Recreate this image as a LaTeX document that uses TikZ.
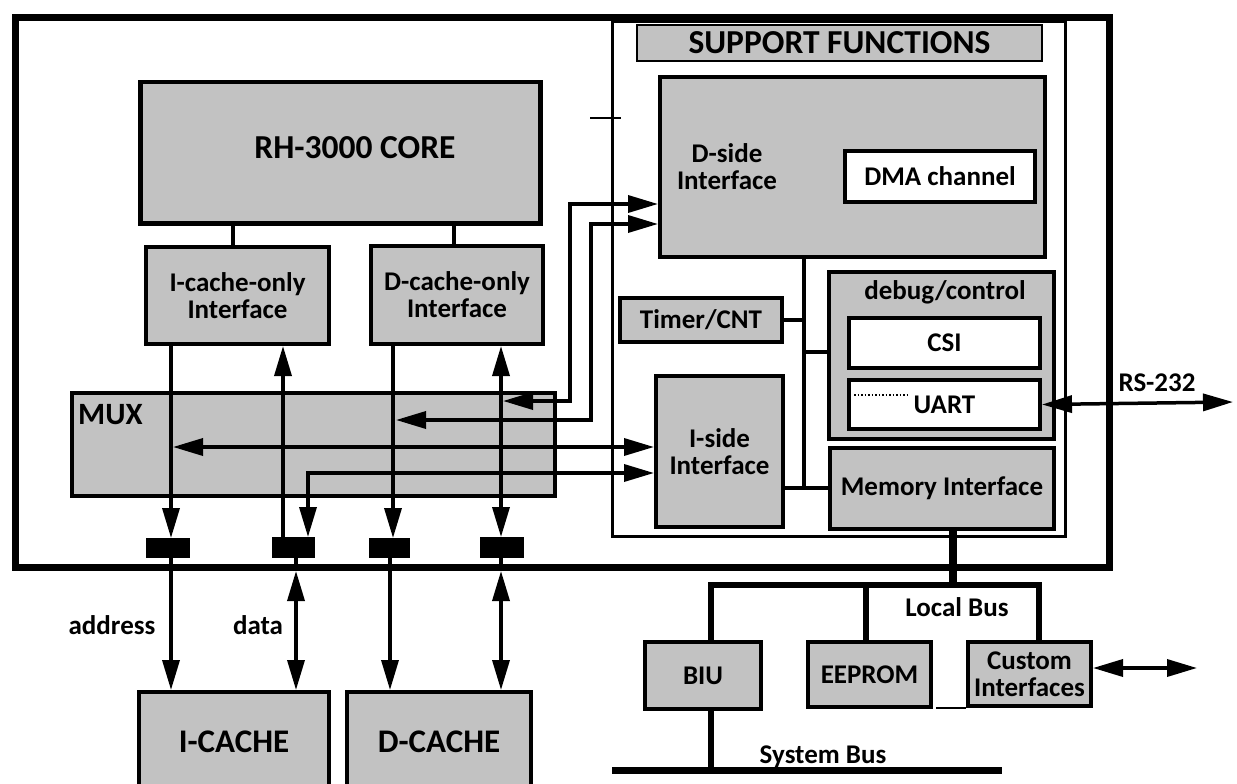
\documentclass[tikz,border=0pt]{standalone}
\usepackage{fontspec}
\setmainfont{Carlito}
\usetikzlibrary{arrows.meta}
\definecolor{shade}{gray}{0.76}
\newcommand\labfont{\fontsize{27}{27}\selectfont\bfseries}
\newcommand\bigfont{\fontsize{33.5}{40}\selectfont\bfseries}
\newcommand\cachefont{\fontsize{33}{40}\selectfont\bfseries}
\tikzset{
  box/.style={draw, line width=4pt, fill=shade, inner sep=0pt, align=center, anchor=north west, font=\labfont},
  wbox/.style={box, fill=white},
  txt/.style={inner sep=0pt, align=center, font=\labfont},
  pad/.style={fill=black, draw=none, inner sep=0pt, anchor=north west},
  ln/.style={line width=3.5pt},
  arr/.style={ln, -{Triangle[length=30pt,width=17pt]}},
  darr/.style={ln, {Triangle[length=30pt,width=17pt]}-{Triangle[length=30pt,width=17pt]}},
  bus/.style={line width=6.5pt},
}
\begin{document}
\begin{tikzpicture}[x=1pt,y=-1pt]
\useasboundingbox (0,0) rectangle (1237,784);
% chip frame and support block
\node[draw, line width=7pt, inner sep=0pt, anchor=north west, minimum width=1094, minimum height=550] (chip) at (12,14) {};
\node[draw, line width=3pt, inner sep=0pt, anchor=north west, minimum width=453, minimum height=515] (sup) at (611,20) {};
\node[box, line width=2pt, minimum width=405, minimum height=36, font=\bigfont] (sf) at (636,24) {SUPPORT FUNCTIONS};
% core side
\node[box, line width=4.5pt, minimum width=400, minimum height=141] (core) at (138,80) {};
\node[txt, font=\bigfont] (coretxt) at (355,148) {RH-3000 CORE};
\node[box, minimum width=183, minimum height=97] (icio) at (144,245) {I-cache-only\\Interface};
\node[box, minimum width=172, minimum height=98] (dcio) at (369,244) {D-cache-only\\Interface};
\node[box, minimum width=483, minimum height=103] (mux) at (70,391) {};
\node[txt, anchor=west, font=\fontsize{31}{36}\selectfont\bfseries] (muxtxt) at (78,415) {MUX};
\node[pad, minimum width=44, minimum height=20] (s1) at (146,538) {};
\node[pad, minimum width=43, minimum height=21] (s2) at (272,537) {};
\node[pad, minimum width=41, minimum height=20] (s3) at (369,538) {};
\node[pad, minimum width=44, minimum height=21] (s4) at (480,537) {};
% support functions
\node[box, minimum width=385, minimum height=180] (dside) at (658,75) {};
\node[txt] (dsidetxt) at (727,167) {D-side\\Interface};
\node[wbox, minimum width=190, minimum height=51] (dma) at (843,149) {DMA channel};
\node[box, minimum width=162, minimum height=44] (timer) at (618,296) {Timer/CNT};
\node[box, minimum width=225, minimum height=167] (dbg) at (827,270) {};
\node[txt] (dbgtxt) at (945,292) {debug/control};
\node[wbox, minimum width=191, minimum height=50] (csi) at (847,316) {CSI};
\node[wbox, minimum width=191, minimum height=49] (uart) at (847,378) {UART};
\node[box, minimum width=127, minimum height=151] (iside) at (654,374) {I-side\\Interface};
\node[box, minimum width=224, minimum height=81] (mem) at (828,446) {Memory Interface};
% external
\node[box, font=\cachefont, minimum width=190, minimum height=100] (ic) at (137,690) {I-CACHE};
\node[box, font=\cachefont, minimum width=184, minimum height=100] (dc) at (345,690) {D-CACHE};
\node[box, minimum width=116, minimum height=67] (biu) at (643,640) {BIU};
\node[box, minimum width=123, minimum height=65] (eep) at (806,640) {EEPROM};
\node[box, minimum width=123, minimum height=64] (cust) at (966,640) {Custom\\Interfaces};
% labels
\node[txt] (laddr) at (112,625) {address};
\node[txt] (ldata) at (258,625) {data};
\node[txt] (llocal) at (957,607) {Local Bus};
\node[txt] (lsys) at (823,757) {System Bus};
\node[txt] (lrs) at (1157,383) {RS-232};
% columns and rows
\coordinate (cA) at (233,0); \coordinate (cB) at (454,0);
\coordinate (c1) at (171,0); \coordinate (c2) at (283,0); \coordinate (c3) at (308,0);
\coordinate (c4) at (393,0); \coordinate (c5) at (501,0);
\coordinate (o2) at (296,0); \coordinate (o4) at (390,0);
\coordinate (rA) at (570,0); \coordinate (rB) at (591,0); \coordinate (vb) at (804,0);
\coordinate (mb) at (953,0); \coordinate (cbiu) at (711,0); \coordinate (ceep) at (866,0); \coordinate (ccus) at (1039,0);
\coordinate (yA) at (0,204); \coordinate (yB) at (0,224);
\coordinate (yAm) at (0,401); \coordinate (yBm) at (0,420);
\coordinate (yC) at (0,447); \coordinate (yD) at (0,473);
\coordinate (ydbg) at (0,352); \coordinate (ymi) at (0,488);
\coordinate (ylb) at (0,585); \coordinate (ysb) at (0,770); \coordinate (yout) at (0,571);
\coordinate (endA) at (503,401); \coordinate (endB) at (396,420); \coordinate (endC) at (173,447);
\coordinate (rsend) at (1233,402); \coordinate (cuend) at (1197,668);
\coordinate (sbL) at (612,770); \coordinate (sbR) at (1002,770);
% core connections
\draw[ln] (core.south -| cA) -- (icio.north -| cA);
\draw[ln] (core.south -| cB) -- (dcio.north -| cB);
\draw[arr] (icio.south -| c1) -- (s1.north -| c1);
\draw[arr] (s2.north -| c2) -- (icio.south -| c2);
\draw[arr] (dcio.south -| c4) -- (s3.north -| c4);
\draw[darr] (dcio.south -| c5) -- (s4.north -| c5);
% mux paths
\draw[darr] (dside.west |- yA) -- (rA |- yA) -- (rA |- yAm) -- (endA);
\draw[darr] (dside.west |- yB) -- (rB |- yB) -- (rB |- yBm) -- (endB);
\draw[darr] (iside.west |- yC) -- (endC);
\draw[darr] (iside.west |- yD) -- (c3 |- yD) -- (s2.north -| c3);
% support internal
\draw[ln] (dside.south -| vb) -- (vb |- ymi);
\draw[ln] (timer.east) -- (timer.east -| vb);
\draw[ln] (vb |- ydbg) -- (dbg.west |- ydbg);
\draw[ln] (iside.east |- ymi) -- (mem.west |- ymi);
\draw[darr] (uart.east) -- (rsend);
% outside
\draw[arr] (s1.south -| c1) -- (ic.north -| c1);
\draw[ln] (s2.south -| o2) -- (o2 |- yout);
\draw[darr] (o2 |- yout) -- (ic.north -| o2);
\draw[arr] (s3.south -| o4) -- (dc.north -| o4);
\draw[ln] (s4.south -| c5) -- (c5 |- yout);
\draw[darr] (c5 |- yout) -- (dc.north -| c5);
% buses
\draw[line width=7.5pt] (mem.south -| mb) -- (mb |- ylb);
\draw[bus] (biu.north -| cbiu) -- (cbiu |- ylb) -- (ccus |- ylb) -- (cust.north -| ccus);
\draw[bus] (eep.north -| ceep) -- (ceep |- ylb);
\draw[bus] (biu.south -| cbiu) -- (cbiu |- ysb);
\draw[line width=7pt] (sbL) -- (sbR);
\draw[darr] (cust.east |- cuend) -- (cuend);
% small marks
\draw[line width=1.5pt] (590,118) -- (621,118);
\draw[line width=2pt] (cust.south west) -- ++(-30,0);
\draw[line width=1.5pt, dotted] (854,395) -- (908,395);
\end{tikzpicture}
\end{document}
